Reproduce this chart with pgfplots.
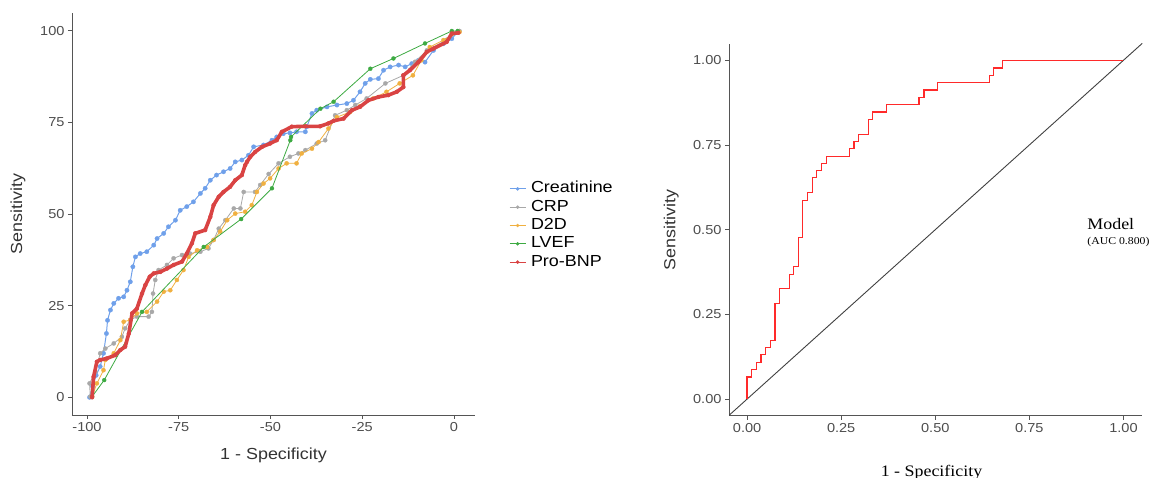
\documentclass[border=0pt]{standalone}
\usepackage{fontspec}
\setmainfont{Liberation Sans}[FakeStretch=1.12]
\newfontfamily\tnr{Liberation Serif}[FakeStretch=1.12]
\usepackage{pgfplots}
\pgfplotsset{compat=1.18}

\definecolor{cCre}{HTML}{6FA0EA}
\definecolor{cCRP}{HTML}{A8A8A8}
\definecolor{cD2D}{HTML}{F0B040}
\definecolor{cLVEF}{HTML}{3DAA42}
\definecolor{cBNP}{HTML}{D94343}
\definecolor{rocred}{HTML}{FF2A2A}
\definecolor{axisgray}{HTML}{555555}
\definecolor{ticktext}{HTML}{4D4D4D}

\pgfplotsset{
  ggclassic/.style={
    scale only axis, anchor=south west, clip mode=individual,
    axis x line*=bottom, axis y line*=left,
    axis line style={-, draw=axisgray, line width=0.9pt},
    tick align=outside, major tick length=4pt,
    tick style={draw=axisgray, line width=0.9pt},
    ticklabel style={font=\fontsize{13}{15}\selectfont, text=ticktext},
    label style={font=\fontsize{16}{18}\selectfont, text=black!80},
  },
  dots/.style={mark=*, mark options={solid, line width=0.3pt}},
}

\begin{document}
\begin{tikzpicture}[x=1pt,y=1pt]
\useasboundingbox (0,0) rectangle (1151,478);

% left: ROC curves of the single markers
\begin{axis}[ggclassic,
  at={(72pt,63pt)}, width=403pt, height=402pt,
  xmin=-104.08, xmax=5.72, ymin=-4.82, ymax=104.8,
  xtick={-100,-75,-50,-25,0}, xticklabels={-100,-75,-50,-25,0},
  ytick={0,25,50,75,100}, yticklabels={0,25,50,75,100},
  xlabel={1 - Specificity}, ylabel={Sensitivity},
  xlabel style={at={(axis description cs:0.5,-0.0995)}, anchor=center},
  ylabel style={at={(axis description cs:-0.134,0.5)}, anchor=center},
  legend style={at={(axis description cs:1.077,0.4714)}, anchor=west,
    draw=none, fill=none, font=\fontsize{16}{18}\selectfont,
    nodes={inner xsep=5pt, inner ysep=1.15pt, text height=12pt, text depth=4pt}},
  legend cell align=left,
  legend image code/.code={\draw[mark repeat=2,mark phase=2] plot coordinates {(0pt,0pt) (8pt,0pt) (16pt,0pt)};},
]
\addlegendimage{cCre, line width=0.8pt, dots, mark size=1.6pt}
\addlegendentry{Creatinine}
\addlegendimage{cCRP, line width=0.8pt, dots, mark size=1.6pt}
\addlegendentry{CRP}
\addlegendimage{cD2D, line width=0.8pt, dots, mark size=1.6pt}
\addlegendentry{D2D}
\addlegendimage{cLVEF, line width=0.8pt, dots, mark size=1.6pt}
\addlegendentry{LVEF}
\addlegendimage{cBNP, line width=0.8pt, dots, mark size=1.6pt}
\addlegendentry{Pro-BNP}

% Creatinine
\addplot[forget plot, cCre, line width=1pt, dots, mark size=2.2pt] coordinates {
(-99.3,0)(-98.5,3)(-97.5,6)(-96.4,8.4)(-95.5,12)(-94.7,17.4)(-94.4,21)(-93.6,23.8)
(-92.7,25.6)(-91.4,27)(-90,27.4)(-89.1,29.2)(-88.2,31.5)(-87.5,35.6)(-86.8,38.3)
(-85.5,39.2)(-83.7,39.7)(-81.8,41.5)(-80.9,43.3)(-79.1,44.7)(-77.8,46.5)(-75.9,48.3)
(-74.6,51)(-72.8,52)(-71,53.3)(-69.1,55.6)(-67.8,57)(-66.4,59.2)(-64.7,60.6)
(-62.8,61.5)(-61,62.4)(-59.6,64.2)(-57.8,64.7)(-56,66)(-54.6,68.3)(-51.9,68.8)
(-49.6,70.1)(-48.3,71)(-46.5,71.9)(-44.7,72.1)(-42.9,72.4)(-40.5,72.4)(-40.1,73.8)
(-38.7,77.4)(-37.4,78.3)(-34.6,79.2)(-31.9,79.7)(-29.2,80.1)(-27.4,81)(-25.6,83.3)
(-24.2,85.6)(-22.8,86.7)(-20.6,86.9)(-19.2,89.2)(-17.4,90.1)(-15.1,90.6)(-13.3,90.1)
(-11.5,91)(-9.7,91.9)(-7.9,91.4)(-5.6,94.6)(-2.9,96.4)(-0.6,97.8)(1,99.6)
};
% CRP
\addplot[forget plot, cCRP, line width=0.8pt, dots, mark size=2.1pt] coordinates {
(-99.1,0.2)(-99.3,3.8)(-97.7,7)(-96.4,12)(-95,13.3)(-92.7,14.7)(-90.5,16.5)(-89.6,18.8)
(-88.2,21.1)(-86.4,22)(-83.2,22)(-82.3,23.3)(-82,28.3)(-81.4,32)(-80.5,34.7)(-78.2,36.1)
(-76.4,37.9)(-74.1,38.8)(-71.9,39.2)(-69.1,39.7)(-66.9,40.6)(-65.5,42.9)(-64.1,46)
(-62.3,48.3)(-60,51.5)(-58.2,51.5)(-57.3,56)(-54.2,56)(-52.8,57.9)(-50.5,60.9)
(-47.8,63.8)(-44.7,65.6)(-42.4,66.5)(-40.5,67.4)(-37.4,69.2)(-35.1,70.1)(-32.4,76.9)
(-29.2,78.3)(-26.9,79.7)(-23.8,81.5)(-18.7,85.6)(-13.8,87.8)(-10.6,91.5)(-7.4,94.6)
(-2,97.5)(1.5,99.9)
};
% D2D
\addplot[forget plot, cD2D, line width=0.8pt, dots, mark size=2.1pt] coordinates {
(-98.6,0.2)(-97.3,3.8)(-95.5,7.4)(-95,10.2)(-92.7,12)(-90.9,15.6)(-90,20.6)(-88.2,21.1)
(-86.4,22.9)(-83.7,23.3)(-80.9,26.1)(-79.1,28.8)(-77.3,29.2)(-75.5,32)(-73.7,34.7)
(-72.3,38.3)(-70,40.1)(-67.3,41)(-65.5,42.9)(-63.7,45.2)(-61.8,48.3)(-59.6,50.1)
(-56.9,50.6)(-55.1,52.4)(-53.7,56)(-51.9,58.3)(-50.1,59.7)(-47.8,62.4)(-45.6,63.8)
(-42.9,63.8)(-41.5,66.5)(-38.7,67.8)(-36.9,69.6)(-34.2,73.3)(-31.9,76.4)(-28.3,77.8)
(-25.6,79.4)(-22,81.5)(-18.4,83.3)(-14.8,85.6)(-11.2,87.8)(-8.9,91.9)(-6.6,95.5)
(-2.9,97.4)(1.5,99.6)
};
% LVEF
\addplot[forget plot, cLVEF, line width=0.8pt, dots, mark size=2pt] coordinates {
(-98.6,0.2)(-95.3,4.7)(-85,23.3)(-68.2,41)(-58,48.6)(-49.6,57)(-44.6,70.1)(-44.4,71)
(-36.4,78.7)(-32.8,80.6)(-22.8,89.6)(-16.5,92.4)(-7.9,96.5)(-0.6,99.9)(1,99.9)
};
% Pro-BNP
\addplot[forget plot, cBNP, line width=3.6pt, dots, mark size=2pt] coordinates {
(-98.6,0)(-98.2,5.6)(-97.3,9.7)(-96.4,10.2)(-94.6,10.6)(-92.3,11.5)(-90.9,12.9)
(-89.6,13.8)(-88.6,17.4)(-87.7,22.9)(-86.4,24.2)(-85,28.3)(-84.1,30.6)(-82.9,32.9)
(-81.8,33.8)(-80,34.2)(-78.2,35.1)(-76.4,36.1)(-74.1,37)(-72.8,39.2)(-71.4,42)
(-70.5,44.7)(-67.8,45.6)(-66.4,49.2)(-65.5,52.4)(-64.1,54.7)(-62.8,56)(-61,57.4)
(-59.6,59.2)(-57.8,60.6)(-56.9,63.3)(-56.4,64.2)(-55.5,65.6)(-54.2,66.9)(-52.3,68.3)
(-50.1,69.2)(-48.3,70.1)(-46.9,72.4)(-44.2,73.8)(-40.5,73.9)(-36.5,73.9)(-34.2,74.7)
(-32.8,75.4)(-30.1,76)(-27.8,78.3)(-25.6,79.2)(-23.3,81)(-20.6,81.9)(-17.9,82.4)
(-15.6,83.3)(-13.8,84.6)(-13.8,87.8)(-12,89.2)(-9.7,91.4)(-7.4,94.2)(-5.6,95.1)
(-2,96.9)(-0.6,99.2)(1.2,99.4)
};
\end{axis}

% right: ROC curve of the combined model
\begin{axis}[ggclassic,
  at={(729pt,62.3pt)}, width=413.3pt, height=371.7pt,
  xmin=-0.048, xmax=1.05, ymin=-0.049, ymax=1.048,
  xtick={0,0.25,0.5,0.75,1}, xticklabels={0.00,0.25,0.50,0.75,1.00},
  ytick={0,0.25,0.5,0.75,1}, yticklabels={0.00,0.25,0.50,0.75,1.00},
  xlabel={\tnr 1 - Specificity}, ylabel={Sensitivity},
  xlabel style={at={(axis description cs:0.49,-0.152)}, anchor=center, text=black},
  ylabel style={at={(axis description cs:-0.140,0.5)}, anchor=center},
]
\addplot[color=black!75, line width=0.9pt] coordinates {(-0.048,-0.048)(1.05,1.05)};
\addplot[const plot, rocred, line width=1.2pt] coordinates {
(0,0)(0,0.065)(0.011,0.087)(0.024,0.109)(0.037,0.131)(0.050,0.152)(0.062,0.174)
(0.074,0.282)(0.086,0.327)(0.112,0.368)(0.123,0.391)(0.136,0.478)(0.148,0.587)
(0.160,0.609)(0.173,0.653)(0.185,0.674)(0.198,0.696)(0.211,0.717)(0.272,0.739)
(0.284,0.761)(0.297,0.782)(0.322,0.826)(0.334,0.847)(0.371,0.869)(0.457,0.891)
(0.470,0.912)(0.506,0.935)(0.643,0.956)(0.655,0.977)(0.679,1.0)(1.0,1.0)
};
\node[anchor=west, inner sep=0pt, font=\tnr\fontsize{16}{18}\selectfont] at (axis cs:0.9036,0.517) {Model};
\node[anchor=west, inner sep=0pt, font=\tnr\fontsize{10.5}{12}\selectfont] at (axis cs:0.9036,0.464) {(AUC 0.800)};
\end{axis}
\end{tikzpicture}
\end{document}
